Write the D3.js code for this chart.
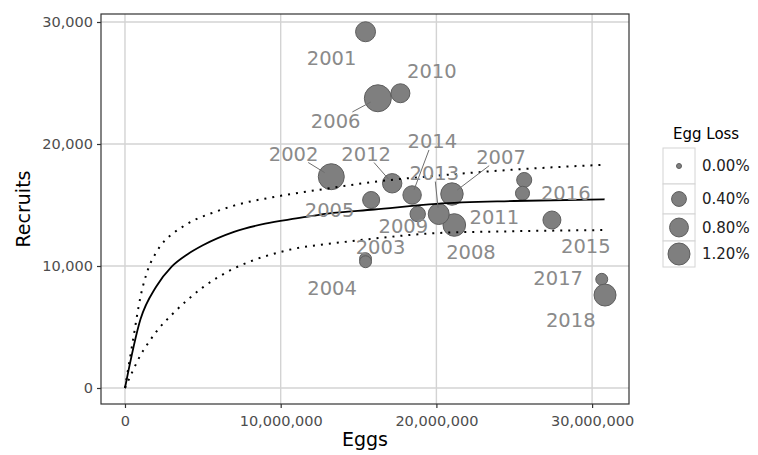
<!DOCTYPE html>
<html>
<head>
<meta charset="utf-8">
<script src="https://cdn.jsdelivr.net/npm/d3@7"></script>
<style>
  html, body { margin: 0; padding: 0; background: #fff; }
  svg { display: block; font-family: "DejaVu Sans", sans-serif; }
</style>
</head>
<body>
<svg id="chart" width="758" height="455"></svg>
<script>
// Spawning stock: eggs produced vs. recruits, one point per year
const years    = [2001, 2002, 2003, 2004, 2005, 2006, 2007, 2008, 2009,
                  2010, 2011, 2012, 2013, 2014, 2015, 2016, 2017, 2018];
const eggs     = [15.45e6, 13.25e6, 15.45e6, 15.45e6, 15.81e6, 16.24e6, 21.0e6, 21.15e6, 18.8e6,
                  17.69e6, 25.64e6, 17.16e6, 20.15e6, 18.44e6, 27.42e6, 25.53e6, 30.62e6, 30.83e6];
const recruits = [29200, 17320, 10600, 10350, 15410, 23750, 15900, 13360, 14260,
                  24160, 17050, 16780, 14260, 15820, 13770, 15960, 8910, 7620];
const eggLoss  = [0.93, 1.83, 0.20, 0.20, 0.60, 2.01, 1.26, 1.29, 0.45,
                  0.81, 0.42, 0.86, 1.06, 0.75, 0.70, 0.34, 0.20, 1.20];

// Where each year's label sits (eggs, recruits), after repelling
const labelEggs     = [13.27e6, 10.83e6, 16.41e6, 13.30e6, 13.14e6, 13.53e6, 24.15e6, 22.22e6, 17.88e6,
                       19.71e6, 23.72e6, 15.49e6, 19.87e6, 19.74e6, 29.60e6, 28.31e6, 27.82e6, 28.63e6];
const labelRecruits = [27090, 19220, 11560, 8200, 14590, 21890, 18960, 11170, 13300,
                       25980, 14040, 19220, 17660, 20250, 11640, 16020, 9020, 5570];
const labelLeader   = [false, true, false, false, false, true, true, false, false,
                       false, false, true, true, true, false, false, false, false];

// Stock-recruitment fit and its confidence band
const fitEggs   = [0, 1e6, 2e6, 3e6, 4e6, 5e6, 7e6, 9e6, 11e6, 13e6, 16e6, 20e6, 25e6, 30.8e6];
const fitValues = [0, 5650, 8300, 9950, 10950, 11700, 12800, 13470, 13900, 14300, 14630, 15100, 15330, 15470];
const upperEggs   = [0, 0.5e6, 1e6, 1.5e6, 2e6, 2.5e6, 3e6, 3.5e6, 4.5e6, 5.5e6, 7e6, 10e6, 13e6, 16e6, 20e6, 25e6, 30.8e6];
const upperValues = [0, 3800, 7500, 9800, 11100, 12000, 12600, 13050, 13800, 14300, 14950, 15750, 16350, 16900, 17400, 17900, 18300];
const lowerEggs   = [0, 0.5e6, 1e6, 1.5e6, 2e6, 3e6, 4e6, 5e6, 6e6, 7e6, 8e6, 9e6, 10e6, 11e6, 13e6, 16e6, 20e6, 25e6, 30.8e6];
const lowerValues = [0, 1400, 2700, 3700, 4600, 6000, 7200, 8250, 9100, 9800, 10350, 10800, 11150, 11450, 11800, 12250, 12700, 12850, 12950];

// Axis ticks and legend breaks
const xTicks = [0, 10e6, 20e6, 30e6];
const yTicks = [0, 10000, 20000, 30000];
const lossBreaks = [0, 0.4, 0.8, 1.2];

const svg = d3.select("#chart");
const panel = { left: 101, right: 629, top: 14, bottom: 404 };

const x = d3.scaleLinear().domain([-1.54e6, 32.37e6]).range([panel.left, panel.right]);
const y = d3.scaleLinear().domain([-1311, 30656]).range([panel.bottom, panel.top]);
const r = d3.scaleSqrt().domain([0, 1.2]).range([2.5, 11]);

// Panel background and grid
svg.append("rect")
  .attr("x", panel.left).attr("y", panel.top)
  .attr("width", panel.right - panel.left).attr("height", panel.bottom - panel.top)
  .attr("fill", "#fff");

const grid = svg.append("g").attr("stroke", "#d3d3d3").attr("stroke-width", 1.4);
grid.selectAll("line.gx").data(xTicks).join("line")
  .attr("x1", d => x(d)).attr("x2", d => x(d))
  .attr("y1", panel.top).attr("y2", panel.bottom);
grid.selectAll("line.gy").data(yTicks).join("line")
  .attr("y1", d => y(d)).attr("y2", d => y(d))
  .attr("x1", panel.left).attr("x2", panel.right);

// Points
const pts = years.map((yr, i) => ({ year: yr, e: eggs[i], rc: recruits[i], loss: eggLoss[i],
  le: labelEggs[i], lr: labelRecruits[i], leader: labelLeader[i] }));

svg.append("g").selectAll("circle").data(pts).join("circle")
  .attr("cx", d => x(d.e)).attr("cy", d => y(d.rc)).attr("r", d => r(d.loss))
  .attr("fill", "#7f7f7f").attr("stroke", "#5e5e5e").attr("stroke-width", 1);

// Fitted curve and band
const lineOf = (xs, ys) => d3.line().x((d, i) => x(xs[i])).y((d, i) => y(ys[i])).curve(d3.curveMonotoneX)(xs);

[[upperEggs, upperValues], [lowerEggs, lowerValues]].forEach(([xs, ys]) => {
  svg.append("path").attr("d", lineOf(xs, ys))
    .attr("fill", "none").attr("stroke", "#000").attr("stroke-width", 2)
    .attr("stroke-dasharray", "2 6");
});
svg.append("path").attr("d", lineOf(fitEggs, fitValues))
  .attr("fill", "none").attr("stroke", "#000").attr("stroke-width", 1.8);

// Year labels with leader segments
const labelW = 52, labelH = 18;
const leaders = svg.append("g").attr("stroke", "#6e6e6e").attr("stroke-width", 1);
pts.filter(d => d.leader).forEach(d => {
  const lx = x(d.le), ly = y(d.lr), px = x(d.e), py = y(d.rc);
  const dx = px - lx, dy = py - ly;
  const t = Math.min(Math.abs((labelW / 2) / dx), Math.abs((labelH / 2) / dy));
  const rad = r(d.loss);
  const len = Math.hypot(dx, dy);
  leaders.append("line")
    .attr("x1", lx + dx * t).attr("y1", ly + dy * t)
    .attr("x2", px - dx / len * rad * 0.6).attr("y2", py - dy / len * rad * 0.6);
});

svg.append("g").selectAll("text").data(pts).join("text")
  .attr("x", d => x(d.le)).attr("y", d => y(d.lr))
  .attr("dy", "0.36em").attr("text-anchor", "middle")
  .attr("font-size", 19.5).attr("fill", "#8a8a8a")
  .text(d => d.year);

// Panel border
svg.append("rect")
  .attr("x", panel.left).attr("y", panel.top)
  .attr("width", panel.right - panel.left).attr("height", panel.bottom - panel.top)
  .attr("fill", "none").attr("stroke", "#333").attr("stroke-width", 1.2);

// Axes
const fmt = d3.format(",");
const xAxis = svg.append("g").attr("transform", `translate(0,${panel.bottom})`)
  .call(d3.axisBottom(x).tickValues(xTicks).tickFormat(fmt).tickSize(4).tickPadding(8));
const yAxis = svg.append("g").attr("transform", `translate(${panel.left},0)`)
  .call(d3.axisLeft(y).tickValues(yTicks).tickFormat(fmt).tickSize(4).tickPadding(4));
[xAxis, yAxis].forEach(a => {
  a.select(".domain").remove();
  a.selectAll(".tick line").attr("stroke", "#333").attr("stroke-width", 1.2);
  a.selectAll(".tick text").attr("fill", "#4d4d4d").attr("font-size", 14.5)
    .attr("font-family", "DejaVu Sans, sans-serif");
});

svg.append("text").attr("x", (panel.left + panel.right) / 2).attr("y", 446)
  .attr("text-anchor", "middle").attr("font-size", 19).attr("fill", "#000").text("Eggs");
svg.append("text").attr("transform", `translate(30,${(panel.top + panel.bottom) / 2}) rotate(-90)`)
  .attr("text-anchor", "middle").attr("font-size", 19).attr("fill", "#000").text("Recruits");

// Legend: egg loss by point size
const legend = svg.append("g");
legend.append("text").attr("x", 673).attr("y", 138.5)
  .attr("font-size", 15).attr("fill", "#000").text("Egg Loss");
const rowEdges = [148, 184, 214, 241, 267];
const keyLeft = 663, keyWidth = 32;
lossBreaks.forEach((v, i) => {
  const top = rowEdges[i], h = rowEdges[i + 1] - rowEdges[i];
  legend.append("rect").attr("x", keyLeft).attr("y", top)
    .attr("width", keyWidth).attr("height", h)
    .attr("fill", "#fff").attr("stroke", "#d4d4d4").attr("stroke-width", 1);
  legend.append("circle").attr("cx", keyLeft + keyWidth / 2).attr("cy", top + h / 2)
    .attr("r", r(v)).attr("fill", "#7f7f7f").attr("stroke", "#5e5e5e").attr("stroke-width", 1);
  legend.append("text").attr("x", 702).attr("y", top + h / 2).attr("dy", "0.36em")
    .attr("font-size", 15).attr("fill", "#222").text(d3.format(".2f")(v) + "%");
});
</script>
</body>
</html>
